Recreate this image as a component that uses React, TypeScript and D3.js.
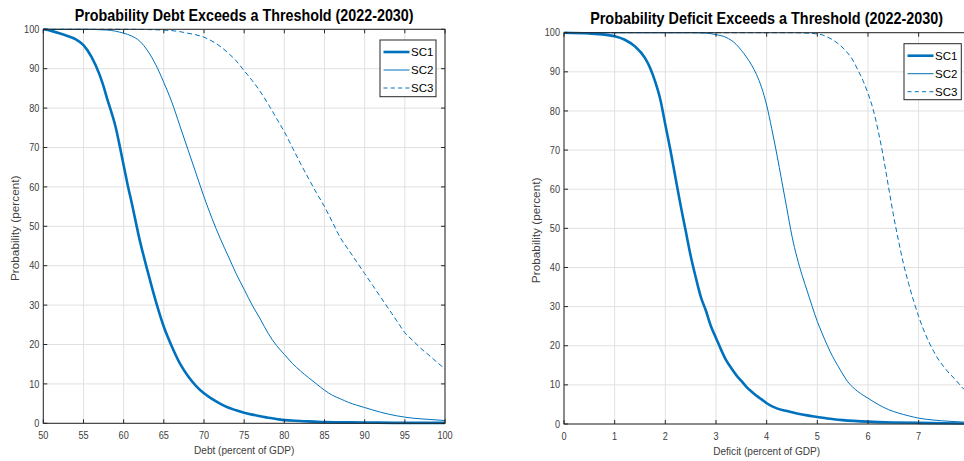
import React, { useLayoutEffect, useRef, useState } from "react";
import * as d3 from "d3";

// ---------- Data ----------
const debtTicks = [50, 55, 60, 65, 70, 75, 80, 85, 90, 95, 100];
const deficitTicks = [0, 1, 2, 3, 4, 5, 6, 7, 8];
const probTicks = [0, 10, 20, 30, 40, 50, 60, 70, 80, 90, 100];
const seriesNames = ["SC1", "SC2", "SC3"];

const debtSC1X = [50,51,52,53,54,55,56,57,57.5,58,58.5,59,59.5,60,60.5,61,62,63,64,65,66,67,68,69,70,71,72,73,74,75,76,77,78,79,80,82,85,90,95,100];
const debtSC1Y = [100,99.6,99,98.3,97.5,96,93,88.5,85.5,82,78.8,75.2,70.5,65.5,60.5,56,46.5,38.5,31,24.5,19.5,15.2,12,9.5,7.6,6.2,5,4,3.3,2.7,2.2,1.8,1.4,1.1,0.8,0.6,0.3,0.2,0.1,0.1];

const debtSC2X = [50,55,58,60,61,62,63,64,65,66,67,68,69,70,71,72,73,74,75,76,77,78,79,80,81,82,83,84,85,86,87,88,89,90,92,94,96,98,100];
const debtSC2Y = [100,100,99.8,99,98.3,97,94.5,91,86.5,81.5,75.5,69.5,63.5,57.5,52,47,42.5,38,34,30,26.5,22.8,19.8,17.5,15.2,13.3,11.6,10,8.4,7.1,6.2,5.3,4.6,4,2.8,1.9,1.3,1,0.7];

const debtSC3X = [50,60,65,67,68,69,70,71,72,73,74,75,76,77,78,79,80,81,82,83,84,85,86,87,88,89,90,91,92,93,94,95,96,97,98,99,100];
const debtSC3Y = [100,100,99.8,99.4,99,98.6,98,97,95.7,94,92,89.5,87,84.2,81,77.5,74,70,66,62.2,58.5,55,51,47,44,41,38,35,32,29,26,23,21,19,17.3,15.5,13.8];

const defSC1X = [0,0.5,0.8,1,1.2,1.4,1.6,1.7,1.8,1.9,2,2.1,2.2,2.3,2.4,2.5,2.6,2.7,2.8,2.9,3,3.1,3.2,3.3,3.4,3.5,3.6,3.7,3.8,3.9,4,4.2,4.4,4.6,4.8,5,5.2,5.5,6,6.5,7,8];
const defSC1Y = [100,99.8,99.5,99.1,98.2,96.5,93.5,91,87.5,83,76.5,70,63,56,49.5,43,37.5,32.5,29,25,22,19,16.3,14.3,12.5,11,9.5,8.3,7.2,6.3,5.3,4,3.3,2.7,2.2,1.8,1.4,1,0.6,0.4,0.3,0.1];

const defSC2X = [0,2.5,2.8,3,3.2,3.4,3.5,3.6,3.7,3.8,3.9,4,4.1,4.2,4.3,4.4,4.5,4.6,4.7,4.8,4.9,5,5.1,5.2,5.3,5.4,5.5,5.6,5.7,5.8,5.9,6,6.2,6.4,6.6,6.8,7,7.3,7.6,8];
const defSC2Y = [100,100,99.9,99.5,98.8,97,95.5,93.8,91.8,89.3,86,81.5,75.5,69,62,55,48,42.5,38,34,30,26.2,23,20,17.3,15,12.8,10.8,9.4,8.3,7.4,6.6,5,3.7,2.8,2.1,1.5,1,0.7,0.4];

const defSC3X = [0,4.5,5,5.2,5.4,5.6,5.7,5.8,5.9,6,6.1,6.2,6.3,6.4,6.5,6.6,6.7,6.8,6.9,7,7.1,7.2,7.3,7.4,7.5,7.6,7.7,7.8,7.9,8];
const defSC3Y = [100,100,99.7,98.9,97.3,94.8,93,90.5,87.8,84.5,80.5,75,68.5,61,53.6,47,41,36,31.5,27.5,24,21,18.5,16.3,14.6,13,11.7,10.2,8.8,7.6];

// ---------- Styles ----------
const BLUE = "#0072BD";
const FONT = "'Liberation Sans', Arial, Helvetica, sans-serif";
const SQ = 0.87; // horizontal squeeze to mimic a narrow Helvetica
const VIEW_W = 964;
const seriesStyle = [
  { width: 2.6, dash: "none" },
  { width: 1, dash: "none" },
  { width: 1, dash: "5,3" },
];

type Panel = {
  title: string;
  titleLen: number;
  xLabel: string;
  xDomain: [number, number];
  xTicks: number[];
  left: number; right: number; top: number; bottom: number;
  series: { x: number[]; y: number[] }[];
  legend: { x: number; y: number; w: number; h: number };
};

const panels: Panel[] = [
  {
    title: "Probability Debt Exceeds a Threshold (2022-2030)",
    titleLen: 339,
    xLabel: "Debt (percent of GDP)",
    xDomain: [50, 100],
    xTicks: debtTicks,
    left: 43.3, right: 445, top: 29.3, bottom: 423.3,
    series: [
      { x: debtSC1X, y: debtSC1Y },
      { x: debtSC2X, y: debtSC2Y },
      { x: debtSC3X, y: debtSC3Y },
    ],
    legend: { x: 380, y: 40, w: 56, h: 56.7 },
  },
  {
    title: "Probability Deficit Exceeds a Threshold (2022-2030)",
    titleLen: 353,
    xLabel: "Deficit (percent of GDP)",
    xDomain: [0, 8],
    xTicks: deficitTicks,
    left: 564, right: 969.3, top: 32.7, bottom: 424,
    series: [
      { x: defSC1X, y: defSC1Y },
      { x: defSC2X, y: defSC2Y },
      { x: defSC3X, y: defSC3Y },
    ],
    legend: { x: 904, y: 43.7, w: 57.3, h: 56 },
  },
];

function T({
  x, y, anchor = "start", size, fill = "#404040", rotate = 0, sq = SQ, children,
}: {
  x: number; y: number; anchor?: string; size: number; fill?: string; rotate?: number; sq?: number; children: React.ReactNode;
}) {
  return (
    <text
      transform={`translate(${x},${y}) rotate(${rotate}) scale(${sq},1)`}
      textAnchor={anchor}
      fontFamily={FONT}
      fontSize={size}
      fill={fill}
    >
      {children}
    </text>
  );
}

function Title({ x, y, len, text }: { x: number; y: number; len: number; text: string }) {
  const ref = useRef<SVGTextElement>(null);
  const [s, setS] = useState(0.88);
  useLayoutEffect(() => {
    if (ref.current) {
      const w = ref.current.getComputedTextLength();
      if (w > 0) setS(len / w);
    }
  }, [len, text]);
  return (
    <text
      ref={ref}
      transform={`translate(${x},${y}) scale(${s},1)`}
      textAnchor="middle"
      fontFamily={FONT}
      fontWeight="bold"
      fontSize={16.3}
      fill="#000"
    >
      {text}
    </text>
  );
}

function PanelView({ p, idx }: { p: Panel; idx: number }) {
  const x = d3.scaleLinear().domain(p.xDomain).range([p.left, p.right]);
  const y = d3.scaleLinear().domain([0, 100]).range([p.bottom, p.top]);
  const line = d3
    .line<[number, number]>()
    .x((d) => x(d[0]))
    .y((d) => y(d[1]))
    .curve(d3.curveMonotoneX);
  const cx = (p.left + p.right) / 2;
  const cy = (p.top + p.bottom) / 2;
  const tk = 4;
  const clipId = `clip${idx}`;
  return (
    <g>
      <defs>
        <clipPath id={clipId}>
          <rect x={p.left} y={p.top - 2} width={p.right - p.left} height={p.bottom - p.top + 4} />
        </clipPath>
      </defs>
      <rect x={p.left} y={p.top} width={p.right - p.left} height={p.bottom - p.top} fill="#fff" />
      {/* grid */}
      {p.xTicks.map((t) => (
        <line key={"gx" + t} x1={x(t)} x2={x(t)} y1={p.top} y2={p.bottom} stroke="#e1e1e1" strokeWidth={1} />
      ))}
      {probTicks.map((t) => (
        <line key={"gy" + t} x1={p.left} x2={p.right} y1={y(t)} y2={y(t)} stroke="#e1e1e1" strokeWidth={1} />
      ))}
      {/* series */}
      <g clipPath={`url(#${clipId})`}>
        {p.series.map((s, i) => (
          <path
            key={"s" + i}
            d={line(s.x.map((v, j) => [v, s.y[j]] as [number, number])) || ""}
            fill="none"
            stroke={BLUE}
            strokeWidth={seriesStyle[i].width}
            strokeDasharray={seriesStyle[i].dash}
            strokeLinejoin="round"
          />
        ))}
      </g>
      {/* box */}
      <rect x={p.left} y={p.top} width={p.right - p.left} height={p.bottom - p.top} fill="none" stroke="#262626" strokeWidth={1} />
      {/* ticks */}
      {p.xTicks.map((t) => (
        <g key={"tx" + t}>
          <line x1={x(t)} x2={x(t)} y1={p.bottom} y2={p.bottom - tk} stroke="#262626" />
          <line x1={x(t)} x2={x(t)} y1={p.top} y2={p.top + tk} stroke="#262626" />
          {x(t) <= VIEW_W && (
            <T x={x(t)} y={p.bottom + 15.5} anchor="middle" size={10.5}>
              {t}
            </T>
          )}
        </g>
      ))}
      {probTicks.map((t) => (
        <g key={"ty" + t}>
          <line x1={p.left} x2={p.left + tk} y1={y(t)} y2={y(t)} stroke="#262626" />
          <line x1={p.right} x2={p.right - tk} y1={y(t)} y2={y(t)} stroke="#262626" />
          <T x={p.left - 4} y={y(t) + 3.6} anchor="end" size={10.5}>
            {t}
          </T>
        </g>
      ))}
      {/* axis labels */}
      <T x={cx} y={p.bottom + 31} anchor="middle" size={11.6}>
        {p.xLabel}
      </T>
      <T x={p.left - 24} y={cy + 2} anchor="middle" size={11.8} rotate={-90} sq={1}>
        Probability (percent)
      </T>
      {/* title */}
      <Title x={cx} y={p.top - 8.5} len={p.titleLen} text={p.title} />
      {/* legend */}
      <rect x={p.legend.x} y={p.legend.y} width={p.legend.w} height={p.legend.h} fill="#fff" stroke="#262626" strokeWidth={1} />
      {seriesNames.map((n, i) => {
        const ly = p.legend.y + 12 + i * 18;
        return (
          <g key={"lg" + n}>
            <line
              x1={p.legend.x + 3.5}
              x2={p.legend.x + 29.5}
              y1={ly}
              y2={ly}
              stroke={BLUE}
              strokeWidth={seriesStyle[i].width}
              strokeDasharray={i === 2 ? "4,3.3" : seriesStyle[i].dash}
            />
            <text x={p.legend.x + 31} y={ly + 4.2} fontFamily={FONT} fontSize={11.5} fill="#000">
              {n}
            </text>
          </g>
        );
      })}
    </g>
  );
}

export default function App() {
  return (
    <svg
      width={VIEW_W}
      height={461}
      style={{ position: "absolute", left: 0, top: 0, background: "#fff", overflow: "hidden" }}
    >
      <rect x={0} y={0} width={VIEW_W} height={461} fill="#fff" />
      {panels.map((p, i) => (
        <PanelView key={i} p={p} idx={i} />
      ))}
    </svg>
  );
}
